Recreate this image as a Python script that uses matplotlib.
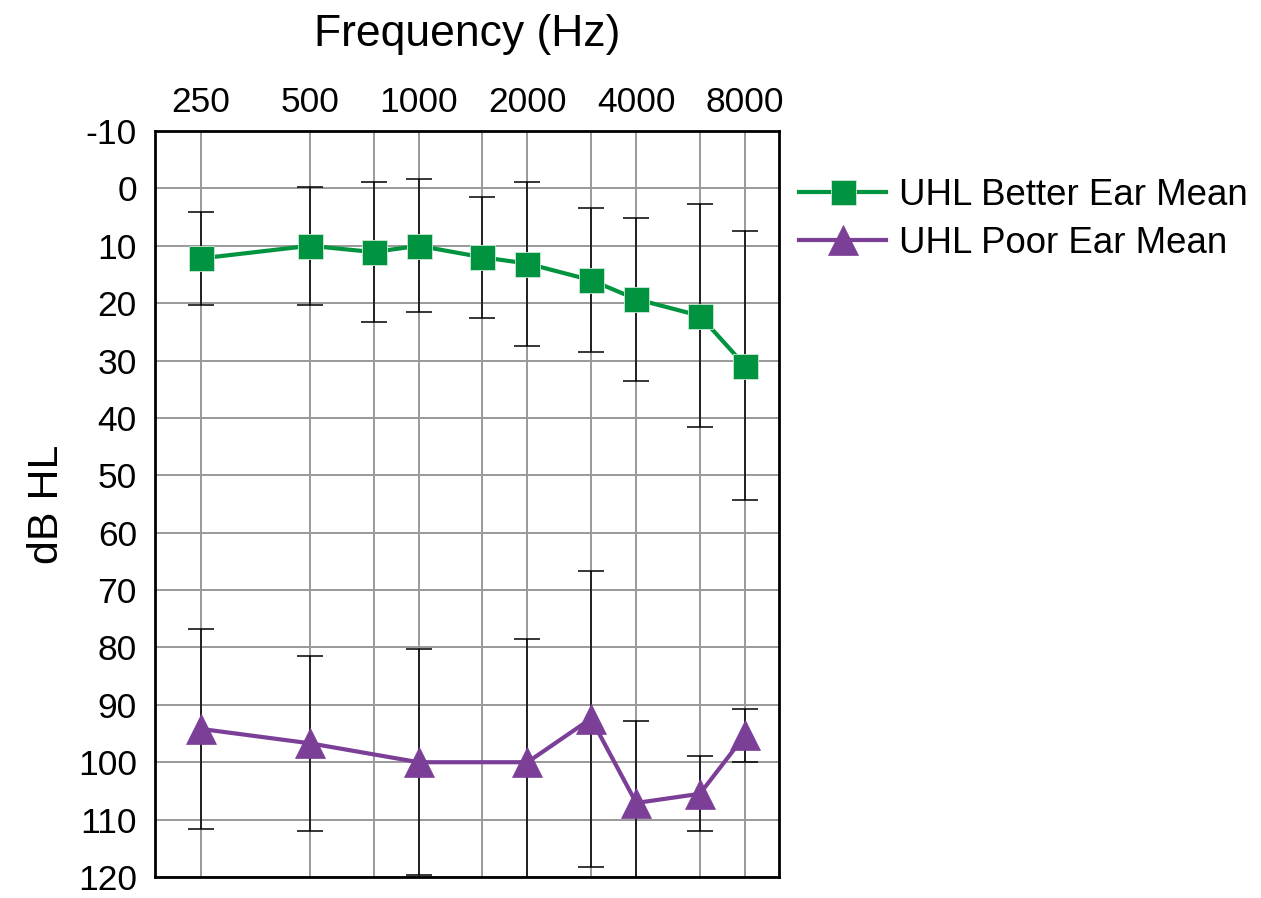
import matplotlib.pyplot as plt
from matplotlib.ticker import FixedLocator, NullFormatter
import numpy as np

plt.rcParams['font.family'] = ['Liberation Sans', 'DejaVu Sans']

# Better ear: measured at all audiogram frequencies
better_freq = [250, 500, 750, 1000, 1500, 2000, 3000, 4000, 6000, 8000]
better_mean = [12.2, 10.0, 11.1, 10.0, 12.0, 13.1, 16.0, 19.3, 22.2, 30.9]
better_sd = [8.1, 10.3, 12.2, 11.6, 10.5, 14.3, 12.5, 14.2, 19.4, 23.4]

# Poor ear: no 750 / 1500 Hz points
poor_freq = [250, 500, 1000, 2000, 3000, 4000, 6000, 8000]
poor_mean = [94.2, 96.7, 100.0, 100.0, 92.4, 107.1, 105.5, 95.3]
poor_sd = [17.4, 15.2, 19.7, 21.5, 25.8, 14.3, 6.5, 4.6]

octave_ticks = [250, 500, 1000, 2000, 4000, 8000]
mid_ticks = [750, 1500, 3000, 6000]
db_ticks = list(range(-10, 121, 10))

green = '#009440'
purple = '#7b3f98'

fig = plt.figure(figsize=(12.61, 8.98), dpi=100)
ax = fig.add_axes([0.1229, 0.0234, 0.4949, 0.8307])

# error bars first (black), then the mean lines on top
ax.errorbar(better_freq, better_mean, yerr=better_sd, fmt='none', ecolor='black',
            elinewidth=1.1, capsize=9.5, capthick=1.1, zorder=3)
ax.errorbar(poor_freq, poor_mean, yerr=poor_sd, fmt='none', ecolor='black',
            elinewidth=1.1, capsize=9.5, capthick=1.1, zorder=3)

ax.plot(better_freq, better_mean, color=green, lw=3, marker='s', ms=18,
        mec='#cfe8d5', mew=0.6, label='UHL Better Ear Mean', zorder=4)
ax.plot(poor_freq, poor_mean, color=purple, lw=3, marker='^', ms=22,
        mec=purple, mew=0.5, label='UHL Poor Ear Mean', zorder=4)

ax.set_xscale('log', base=2)
ax.set_xlim(186.4, 9934)
ax.set_ylim(120, -10)

ax.xaxis.set_major_locator(FixedLocator(octave_ticks))
ax.xaxis.set_minor_locator(FixedLocator(mid_ticks))
ax.xaxis.set_minor_formatter(NullFormatter())
ax.set_xticklabels([str(f) for f in octave_ticks])
ax.set_yticks(db_ticks)
ax.set_yticklabels([str(d) for d in db_ticks])

ax.xaxis.tick_top()
ax.xaxis.set_label_position('top')
ax.tick_params(axis='x', which='both', length=0, labelsize=25.5, pad=8.5)
ax.tick_params(axis='y', length=0, labelsize=25.5, pad=13)

ax.grid(True, which='both', color='#999999', lw=1.4, zorder=1)
ax.set_axisbelow(True)
for s in ax.spines.values():
    s.set_linewidth(2)
    s.set_color('black')
    s.set_zorder(5)

ax.set_xlabel('Frequency (Hz)', fontsize=32, labelpad=29)
ax.set_ylabel('dB HL', fontsize=31, labelpad=8)

ax.legend(loc='upper left', bbox_to_anchor=(0.634, 0.8015), bbox_transform=fig.transFigure,
          frameon=False, fontsize=26.4, numpoints=1, handlelength=2.37,
          handletextpad=0.35, labelspacing=0.34, borderpad=0, borderaxespad=0)

fig.savefig('out.png', dpi=100)
